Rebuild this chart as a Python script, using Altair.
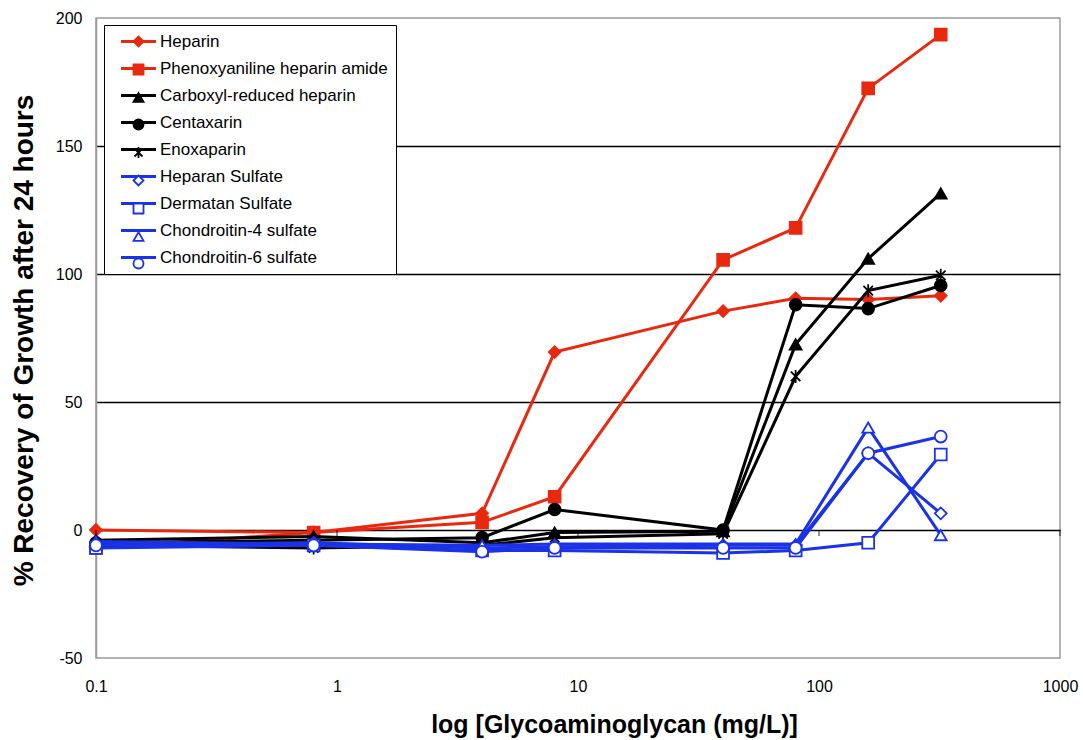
import altair as alt
import pandas as pd

# ---------------- data ----------------
conc = [0.1, 0.8, 4, 8, 40, 80, 160, 320]

series_names = [
    "Heparin",
    "Phenoxyaniline heparin amide",
    "Carboxyl-reduced heparin",
    "Centaxarin",
    "Enoxaparin",
    "Heparan Sulfate",
    "Dermatan Sulfate",
    "Chondroitin-4 sulfate",
    "Chondroitin-6 sulfate",
]

heparin = [0, -1, 6.5, 69.5, 85.5, 90.5, 90, 91.5]
phenoxyaniline = [-7, -1, 3, 13, 105.5, 118, 172.5, 193.5]
carboxyl_reduced = [-4, -2.5, -5, -1, -0.5, 72.5, 106, 131.5]
centaxarin = [-5, -4, -3, 8, 0, 88, 86.5, 95.5]
enoxaparin = [-6, -7, -6, -3, -1.5, 60, 93.5, 99.5]
heparan = [-5.5, -5, -7, -6.5, -6, -6, 30, 6.5]
dermatan = [-7, -6, -8, -8, -9, -8, -5, 29.5]
chondroitin4 = [-4.5, -5.5, -6, -5.5, -5.5, -5.5, 40, -2]
chondroitin6 = [-6, -6, -8.5, -7, -7, -7, 30, 36.5]

all_values = [heparin, phenoxyaniline, carboxyl_reduced, centaxarin, enoxaparin,
              heparan, dermatan, chondroitin4, chondroitin6]

x_tick_values = [0.1, 1, 10, 100, 1000]
y_tick_values = [-50, 0, 50, 100, 150, 200]

# marker legend keys get a prefix so the two overlaid legends stay separate
marker_names = ["m:" + s for s in series_names]

rows = []
for name, mname, vals in zip(series_names, marker_names, all_values):
    for c, v in zip(conc, vals):
        rows.append({"series": name, "marker": mname, "conc": c, "pct": v})
df = pd.DataFrame(rows)
tick_df = pd.DataFrame({"conc": x_tick_values, "pct": [0] * len(x_tick_values)})

# ---------------- styles ----------------
RED = "#E8290F"
BLACK = "#000000"
BLUE = "#1A33E8"
FONT = "Liberation Sans"

line_colors = [RED, RED, BLACK, BLACK, BLACK, BLUE, BLUE, BLUE, BLUE]
ASTER = "M-0.8,-0.8L0.8,0.8M-0.8,0.8L0.8,-0.8M0,-1.1V1.1"
shapes = ["diamond", "square", "triangle-up", "circle", ASTER,
          "diamond", "square", "triangle-up", "circle"]
fills = [RED, RED, BLACK, BLACK, "transparent", "white", "white", "white", "white"]

common_legend = dict(
    title=None,
    orient="none",
    legendX=8,
    legendY=7,
    padding=8,
    labelFont=FONT,
    labelFontSize=17,
    labelLimit=400,
    symbolSize=100,
    symbolOffset=18,
    labelOffset=13,
    rowPadding=9,
)

# legend A: line segments + labels + white box
legend_lines = alt.Legend(
    fillColor="white",
    strokeColor="black",
    labelColor="black",
    labelExpr="datum.label + '   '",
    symbolType="M-3.5,0H3.5",
    symbolStrokeWidth=3,
    zindex=1,
    **common_legend,
)
# legend B: markers drawn on top of the lines (labels invisible, same layout)
legend_marks = alt.Legend(
    labelColor="transparent",
    labelExpr="substring(datum.label, 2) + '   '",
    symbolStrokeWidth=1.8,
    symbolOpacity=1,
    zindex=2,
    **common_legend,
)

stroke_scale = alt.Scale(domain=series_names, range=line_colors)
color_scale = alt.Scale(domain=marker_names, range=line_colors)
shape_scale = alt.Scale(domain=marker_names, range=shapes)
fill_scale = alt.Scale(domain=marker_names, range=fills)

x_enc = alt.X(
    "conc:Q",
    scale=alt.Scale(type="log", domain=[0.1, 1000]),
    axis=alt.Axis(
        values=x_tick_values,
        labelExpr="format(datum.value, '~g')",
        labelAlign="center",
        grid=False,
        domain=False,
        ticks=False,
        labelPadding=20,
        labelFont=FONT,
        labelFontSize=16,
        labelColor="black",
        title="log [Glycoaminoglycan (mg/L)]",
        titleFont=FONT,
        titleFontSize=25,
        titleFontWeight="bold",
        titleColor="black",
        titleX=518,
        titleY=66,
        titleBaseline="middle",
        titleAlign="center",
    ),
)

y_enc = alt.Y(
    "pct:Q",
    scale=alt.Scale(domain=[-50, 200], nice=False),
    axis=alt.Axis(
        values=y_tick_values,
        labelExpr="'' + datum.value",
        grid=True,
        gridColor="black",
        gridWidth=1.3,
        gridOpacity={"condition": {"test": "datum.value == -50 || datum.value == 200", "value": 0}, "value": 1},
        domainColor="#9a9a9a",
        domainWidth=1.5,
        ticks=False,
        labelPadding=14,
        labelFont=FONT,
        labelFontSize=16,
        labelColor="black",
        title="% Recovery of Growth after 24 hours",
        titleFont=FONT,
        titleFontSize=28,
        titleFontWeight="bold",
        titleColor="black",
        titleAngle=270,
        titleX=-72,
        titleY=322,
        titleBaseline="middle",
        titleAlign="center",
    ),
)

base = alt.Chart(df)
layers = []
for name in series_names:
    d = base.transform_filter(alt.datum.series == name)
    line = d.mark_line(strokeWidth=3).encode(
        x=x_enc,
        y=y_enc,
        stroke=alt.Stroke("series:N", scale=stroke_scale, legend=legend_lines),
    )
    pts = d.mark_point(size=140, strokeWidth=1.8, opacity=1, fillOpacity=1).encode(
        x=x_enc,
        y=y_enc,
        color=alt.Color("marker:N", scale=color_scale, legend=legend_marks),
        shape=alt.Shape("marker:N", scale=shape_scale, legend=legend_marks),
        fill=alt.Fill("marker:N", scale=fill_scale, legend=legend_marks),
    )
    layers += [line, pts]

ticks = alt.Chart(tick_df).mark_tick(
    orient="vertical", size=6, thickness=1.2, color="black", yOffset=3
).encode(x=x_enc, y=y_enc)

chart = alt.layer(*layers, ticks).properties(
    width=964,
    height=640,
    autosize=alt.AutoSizeParams(type="none"),
    padding={"left": 96, "top": 18, "right": 23, "bottom": 82},
    background="white",
).configure_view(stroke="#9a9a9a", strokeWidth=1.5)

chart.save("out.html", embed_options={"renderer": "svg", "actions": False})
